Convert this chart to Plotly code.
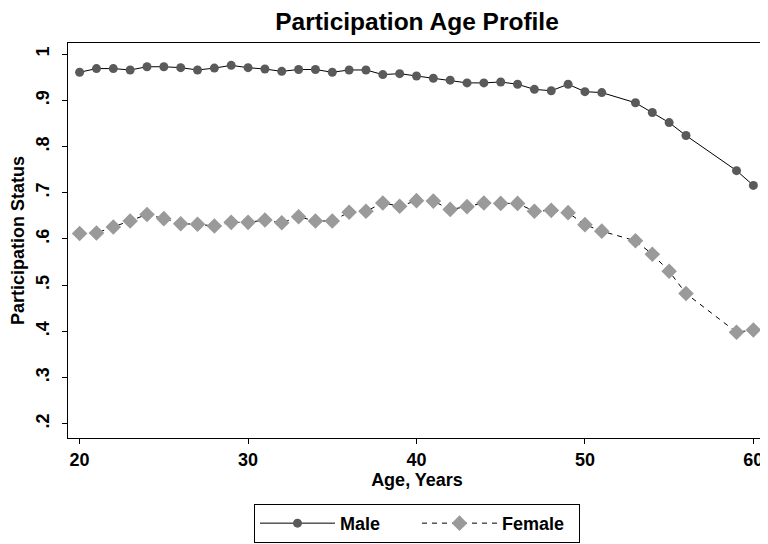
import plotly.graph_objects as go

ages = [20, 21, 22, 23, 24, 25, 26, 27, 28, 29, 30, 31, 32, 33, 34, 35, 36, 37, 38, 39,
        40, 41, 42, 43, 44, 45, 46, 47, 48, 49, 50, 51, 53, 54, 55, 56, 59, 60]
male = [0.961, 0.969, 0.969, 0.966, 0.973, 0.973, 0.971, 0.966, 0.970, 0.976,
        0.971, 0.968, 0.963, 0.967, 0.967, 0.961, 0.966, 0.966, 0.956, 0.958,
        0.953, 0.948, 0.944, 0.938, 0.938, 0.940, 0.935, 0.924, 0.921, 0.935,
        0.919, 0.917, 0.895, 0.874, 0.852, 0.824, 0.748, 0.716]
female = [0.612, 0.613, 0.626, 0.639, 0.653, 0.644, 0.633, 0.632, 0.628, 0.636,
          0.636, 0.641, 0.635, 0.648, 0.639, 0.639, 0.658, 0.660, 0.678, 0.671,
          0.683, 0.682, 0.664, 0.670, 0.678, 0.677, 0.677, 0.660, 0.662, 0.657,
          0.631, 0.617, 0.596, 0.567, 0.530, 0.482, 0.398, 0.403]

x_ticks = [20, 30, 40, 50, 60]
y_ticks = [0.2, 0.3, 0.4, 0.5, 0.6, 0.7, 0.8, 0.9, 1.0]
y_tick_text = [".2", ".3", ".4", ".5", ".6", ".7", ".8", ".9", "1"]

FONT = "Liberation Sans"
TXT = 18

fig = go.Figure()
fig.add_trace(go.Scatter(
    x=ages, y=male, name="Male", mode="lines+markers",
    line=dict(color="black", width=1),
    marker=dict(symbol="circle", size=9, color="#5a5a5a"),
))
fig.add_trace(go.Scatter(
    x=ages, y=female, name="Female", mode="lines+markers",
    line=dict(color="black", width=1, dash="5px,5px"),
    marker=dict(symbol="diamond", size=12, color="#9a9a9a"),
))

fig.update_layout(
    width=760, height=536,
    margin=dict(l=60, r=2, t=35, b=105),
    paper_bgcolor="white", plot_bgcolor="white",
    font=dict(family=FONT, color="black", size=TXT),
    title=dict(text="Participation Age Profile", xref="paper", x=0.5, xanchor="center",
               y=1 - 13 / 536, yanchor="middle",
               font=dict(family=FONT, size=24.5, weight="bold", color="black")),
    showlegend=True,
    legend=dict(orientation="h", xref="paper", x=0.5, xanchor="center",
                y=-0.164, yanchor="top",
                bordercolor="black", borderwidth=1, bgcolor="white",
                font=dict(family=FONT, size=TXT, weight="bold"),
                itemwidth=75, entrywidth=72, tracegroupgap=0),
)
fig.update_xaxes(
    range=[19.31, 60.75], tickvals=x_ticks, ticks="outside", ticklen=5,
    tickcolor="black", showline=True, linecolor="black", linewidth=1, mirror=True,
    showgrid=False, zeroline=False, automargin=False,
    tickfont=dict(family=FONT, size=TXT, weight="bold"),
    title=dict(text="Age, Years", standoff=2,
               font=dict(family=FONT, size=TXT, weight="bold")),
)
fig.update_yaxes(
    range=[0.169, 1.0244], tickvals=y_ticks, ticktext=y_tick_text, ticks="outside",
    ticklen=5, tickcolor="black", tickangle=-90, ticklabelstandoff=6,
    showline=True, linecolor="black", linewidth=1, mirror=True,
    showgrid=False, zeroline=False, automargin=False,
    tickfont=dict(family=FONT, size=TXT, weight="bold"),
    title=dict(text="Participation Status", standoff=4,
               font=dict(family=FONT, size=TXT, weight="bold")),
)

fig.write_html("out.html")
